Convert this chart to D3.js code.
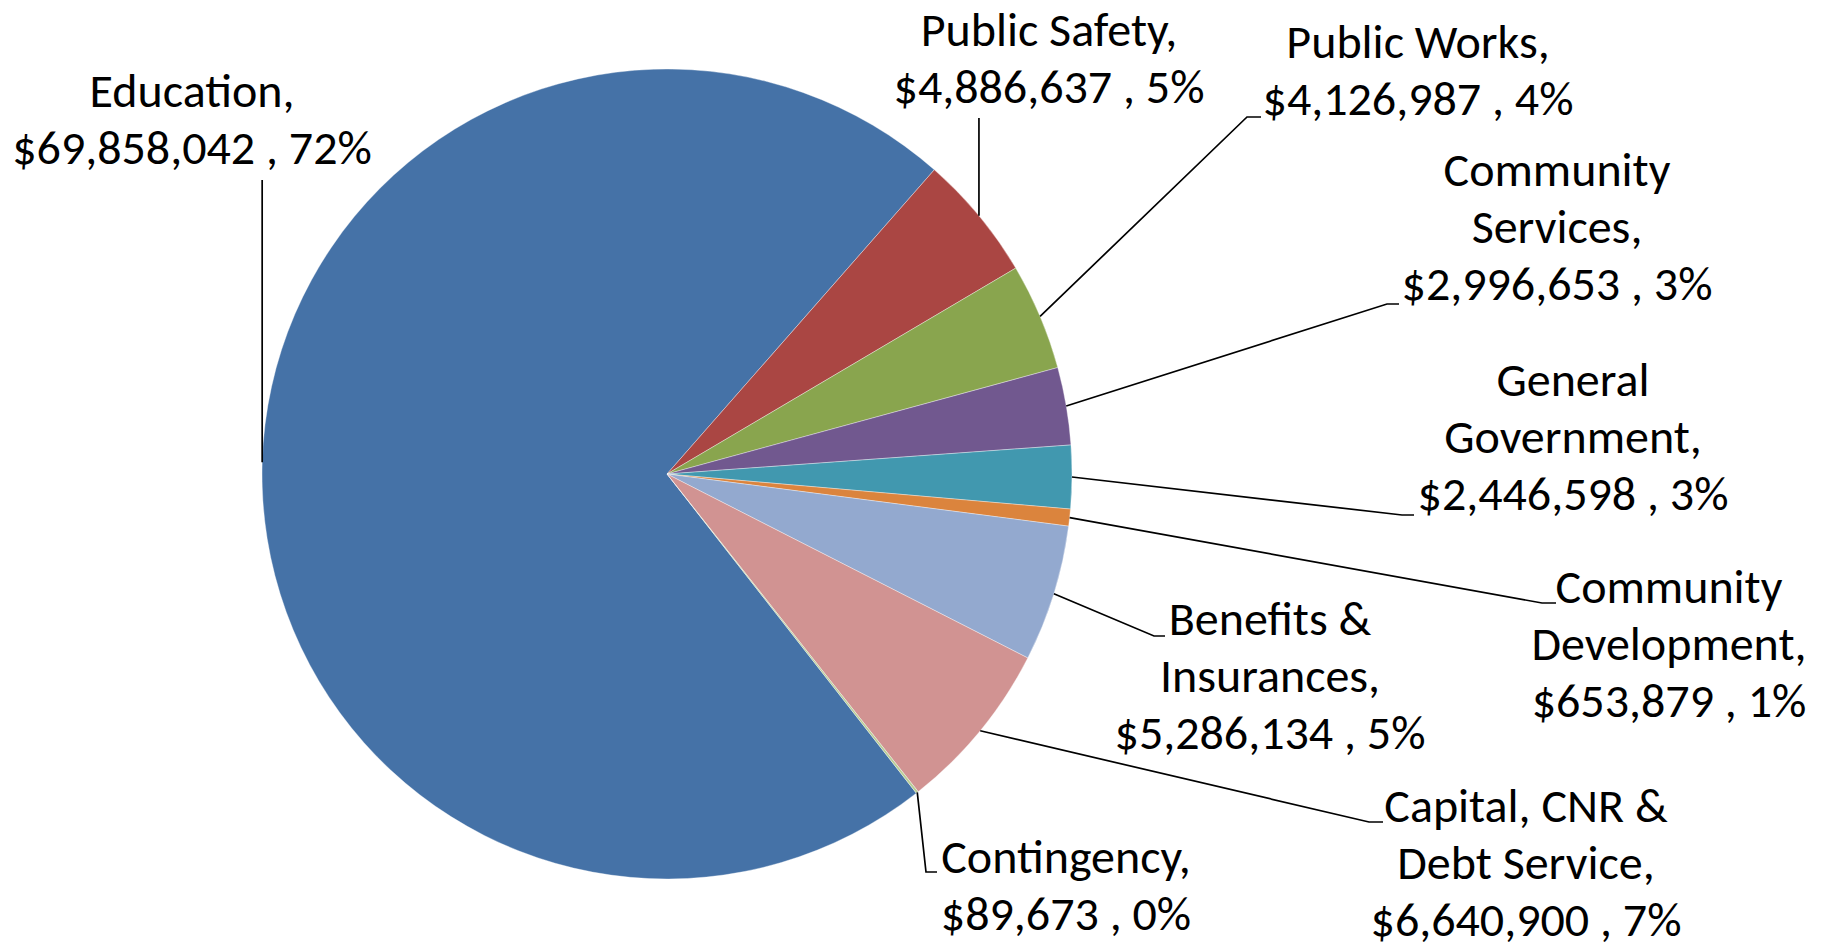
<!DOCTYPE html>
<html>
<head>
<meta charset="utf-8">
<script src="https://cdn.jsdelivr.net/npm/d3@7"></script>
<style>
  body { margin: 0; background: #fff; }
  svg text { font-family: Carlito, Calibri, Lato, sans-serif; font-size: 48px; fill: #000; }
</style>
</head>
<body>
<svg id="chart" width="1827" height="950"></svg>
<script>
// data
const categories = ["Education", "Public Safety", "Public Works", "Community Services",
  "General Government", "Community Development", "Benefits & Insurances",
  "Capital, CNR & Debt Service", "Contingency"];
const values = [69858042, 4886637, 4126987, 2996653, 2446598, 653879, 5286134, 6640900, 89673];
// how each name wraps in its label
const nameLines = [["Education,"], ["Public Safety,"], ["Public Works,"], ["Community", "Services,"],
  ["General", "Government,"], ["Community", "Development,"], ["Benefits &", "Insurances,"],
  ["Capital, CNR &", "Debt Service,"], ["Contingency,"]];
const colors = ["#4572A7", "#AA4643", "#89A54E", "#71588F", "#4198AF", "#DB843D", "#93A9CF", "#D19392", "#B9CD96"];

// label placement: centre x, first baseline, leader elbow, tick end (no tick = straight vertical)
const labelLayout = [
  { x: 192, y: 107, elbowY: 180 },
  { x: 1049, y: 46, elbowY: 118 },
  { x: 1418, y: 58, elbow: [1247, 117], tick: [1261, 117] },
  { x: 1557, y: 186, elbow: [1387, 304], tick: [1399, 304] },
  { x: 1573, y: 396, elbow: [1402, 515], tick: [1414, 515] },
  { x: 1669, y: 603, elbow: [1542, 603], tick: [1556, 603] },
  { x: 1270, y: 635, elbow: [1154, 636], tick: [1165, 636] },
  { x: 1526, y: 822, elbow: [1369, 822], tick: [1383, 822] },
  { x: 1066, y: 873, elbow: [926, 872], tick: [937, 872] }
];

const cx = 667, cy = 474, radius = 405, lineH = 57;
const total = d3.sum(values);
const fmt = d3.format("$,");

const svg = d3.select("#chart");
const g = svg.append("g").attr("transform", `translate(${cx},${cy})`);

const pie = d3.pie().sort(null).value(d => d.value)
  .startAngle(142 * Math.PI / 180).endAngle(142 * Math.PI / 180 + 2 * Math.PI);
const arc = d3.arc().innerRadius(0).outerRadius(radius);
const edge = d3.arc().innerRadius(radius).outerRadius(radius);

const rows = categories.map((c, i) => ({ name: c, value: values[i], i }));
const arcs = pie(rows);

g.selectAll("path.slice")
  .data(arcs)
  .join("path")
  .attr("class", "slice")
  .attr("d", arc)
  .attr("fill", d => colors[d.data.i])
  .attr("stroke", "#fff")
  .attr("stroke-width", 0.6)
  .attr("stroke-opacity", 0.6);

// leader lines
const lines = svg.append("g").attr("fill", "none").attr("stroke", "#000").attr("stroke-width", 1.7);
arcs.forEach(d => {
  const [px, py] = edge.centroid(d);
  const L = labelLayout[d.data.i];
  const start = [cx + px, cy + py];
  let pts;
  if (L.tick) pts = [start, L.elbow, L.tick];
  else pts = [start, [start[0], L.elbowY]];
  lines.append("path").attr("d", d3.line()(pts));
});

// labels
const labels = svg.append("g").attr("text-anchor", "middle");
arcs.forEach(d => {
  const i = d.data.i;
  const L = labelLayout[i];
  const pct = Math.round(d.data.value / total * 100) + "%";
  const textLines = nameLines[i].concat([fmt(d.data.value) + " , " + pct]);
  const t = labels.append("text").attr("x", L.x).attr("y", L.y);
  textLines.forEach((s, k) => {
    t.append("tspan").attr("x", L.x).attr("y", L.y + k * lineH).text(s);
  });
});
</script>
</body>
</html>
